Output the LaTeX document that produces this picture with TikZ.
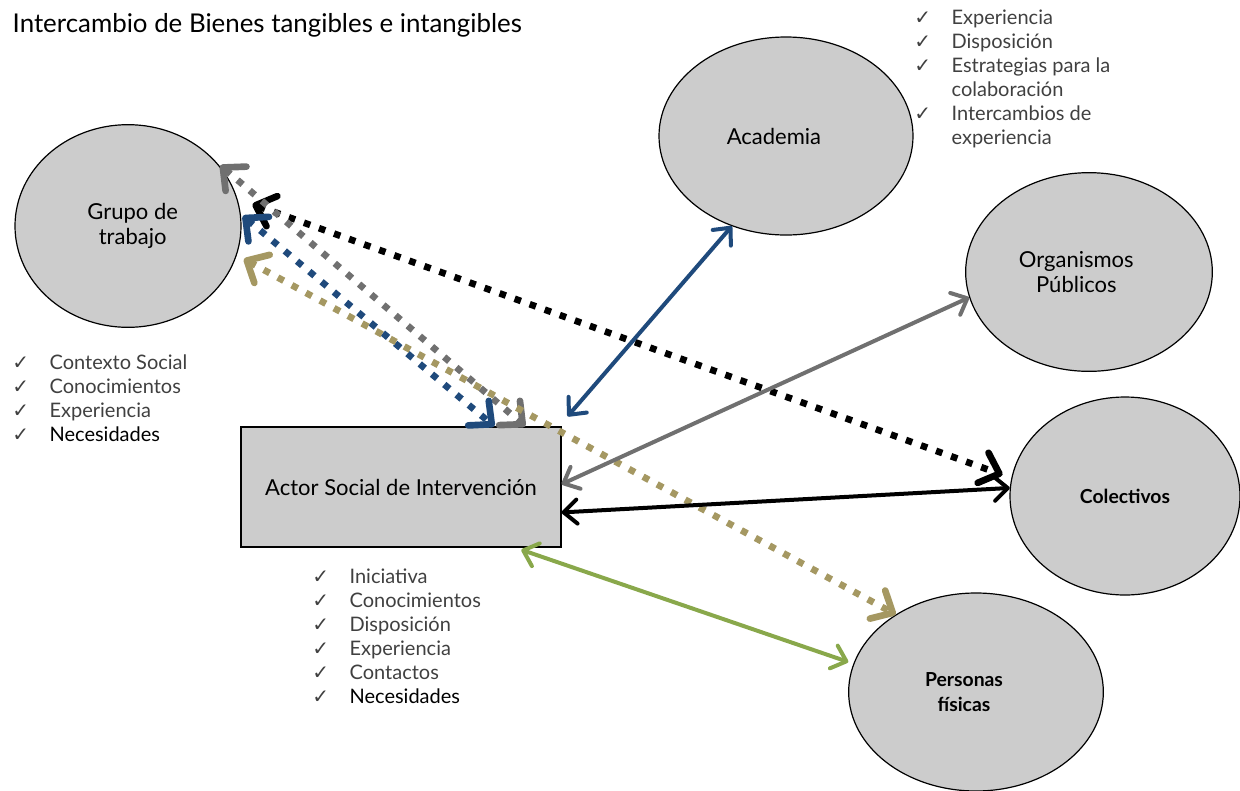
\documentclass[tikz,border=0pt]{standalone}
\usepackage{fontspec}
\setmainfont{Lato}
\newfontfamily\symfont{DejaVu Sans}
\usetikzlibrary{shapes.geometric}
\usetikzlibrary{arrows.meta}

\definecolor{bubblegray}{HTML}{CCCCCC}
\definecolor{listgray}{HTML}{404040}
\definecolor{linkblue}{HTML}{1F4A7C}
\definecolor{linkgray}{HTML}{707070}
\definecolor{linktan}{HTML}{A59862}
\definecolor{linkgreen}{HTML}{89A84B}

\newcommand{\chk}[1]{\makebox[28pt][l]{\symfont\fontsize{15}{15}\selectfont ✓}#1}
\newcommand{\chkgap}[1]{\hspace*{28pt}#1}

\tikzset{
  bubble/.style={ellipse, draw, fill=bubblegray, line width=0.9pt, inner sep=0pt, align=center, font=\fontsize{16.5}{19}\selectfont},
  actorbox/.style={rectangle, draw, fill=bubblegray, line width=0.9pt, inner sep=0pt, font=\fontsize{16.5}{19}\selectfont},
  checklist/.style={anchor=north west, inner sep=0pt, align=left, text=listgray, font=\fontsize{15}{18}\selectfont},
  link/.style={line width=3pt, {Straight Barb[length=10pt,width=18pt,round]}-{Straight Barb[length=10pt,width=18pt,round]}},
  dotlink/.style={line width=5pt, dash pattern=on 5pt off 7pt, {Straight Barb[length=13pt,width=24pt,round]}-{Straight Barb[length=13pt,width=24pt,round]}}
}

\begin{document}
\begin{tikzpicture}[x=0.75pt,y=0.75pt,yscale=-1,xscale=1]
\useasboundingbox (0,0) rectangle (1240,790);

%Title
\node[anchor=west, font=\fontsize{19.4}{22}\selectfont] (title) at (8,25) {Intercambio de Bienes tangibles e intangibles};

%Shape: Ellipse
\node[bubble, minimum width=169.5pt, minimum height=152pt] (grupo) at (128,226) {\hspace*{7pt}Grupo de\\\hspace*{7pt}trabajo};
%Shape: Ellipse
\node[bubble, minimum width=190.5pt, minimum height=148.5pt] (academia) at (786,136) {Academia\hspace*{18pt}};
%Shape: Ellipse
\node[bubble, minimum width=185pt, minimum height=149pt] (organismos) at (1089,272) {Organismos\hspace*{19pt}\\Públicos\hspace*{19pt}};
%Shape: Ellipse
\node[bubble, minimum width=172.5pt, minimum height=148.5pt, font=\fontsize{14.5}{18}\selectfont\bfseries] (colectivos) at (1125,496) {Colectivos};
%Shape: Ellipse
\node[bubble, minimum width=191pt, minimum height=148.5pt, font=\fontsize{14.5}{18.5}\selectfont\bfseries] (personas) at (976,692) {Personas\hspace*{18pt}\\físicas\hspace*{18pt}};
%Shape: Rectangle
\node[actorbox, minimum width=240pt, minimum height=90pt] (actor) at (401,487) {Actor Social de Intervención};

%Lists
\node[checklist] (listacademia) at (914,10) {\chk{Experiencia}\\\chk{Disposición}\\\chk{Estrategias para la}\\\chkgap{colaboración}\\\chk{Intercambios de}\\\chkgap{experiencia}};
\node[checklist] (listgrupo) at (12,354) {\chk{Contexto Social}\\\chk{Conocimientos}\\\chk{Experiencia}\\\chk{\textcolor{black}{Necesidades}}};
\node[checklist] (listactor) at (312,569) {\chk{Iniciativa}\\\chk{Conocimientos}\\\chk{Disposición}\\\chk{Experiencia}\\\chk{Contactos}\\\chk{\textcolor{black}{Necesidades}}};

%Dotted Lines
\draw[dotlink, draw=black, shorten <=12pt, shorten >=7pt] (grupo.14) -- (colectivos.171);
\draw[dotlink, draw=linkgray, shorten <=4pt] (grupo.36) -- (actor.26);
\draw[dotlink, draw=linkblue, shorten <=2pt] (grupo.6) -- (actor.33);
\draw[dotlink, draw=linktan, shorten <=6pt] (grupo.-15) -- (personas.136);

%Straight Lines
\draw[link, draw=linkblue, shorten <=10pt] (actor.21) -- (academia.239);
\draw[link, draw=linkgray] (actor.1) -- (organismos.192);
\draw[link, draw=black] (actor.-9) -- (colectivos.176);
\draw[link, draw=linkgreen, shorten <=5pt, shorten >=4pt] (actor.-28) -- (personas.167);

\end{tikzpicture}
\end{document}
